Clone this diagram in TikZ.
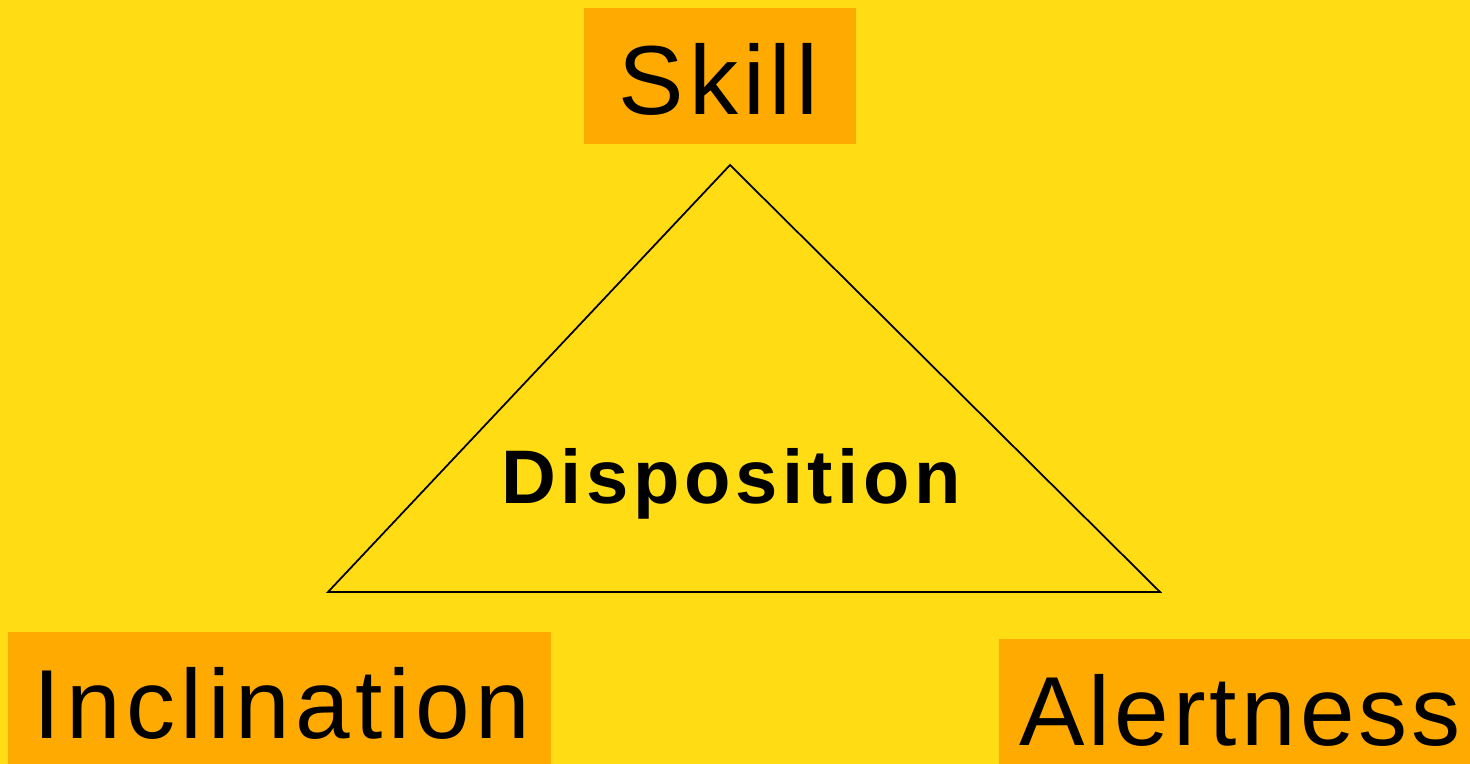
\documentclass[tikz,border=0pt]{standalone}
\usepackage{fontspec}
\setmainfont{Liberation Sans}
\definecolor{bgyellow}{RGB}{255,220,20}
\definecolor{boxorange}{RGB}{255,170,0}
\begin{document}
\begin{tikzpicture}[x=0.01cm,y=-0.01cm,
  termbox/.style={fill=boxorange,draw=none,inner sep=0pt},
  termtext/.style={anchor=base,inner sep=0pt,
    font=\fontsize{27.9pt}{30pt}\selectfont\addfontfeature{LetterSpace=#1}},
  coretext/.style={anchor=base,inner sep=0pt,
    font=\fontsize{21.6pt}{24pt}\selectfont\bfseries\addfontfeature{LetterSpace=6}}]
  % background and page frame
  \fill[bgyellow] (0,0) rectangle (1470,764);
  \useasboundingbox (0,0) rectangle (1470,764);

  % corner boxes
  \node[termbox,minimum width=2.72cm,minimum height=1.36cm] (skillbox) at (720,76) {};
  \node[termbox,minimum width=5.43cm,minimum height=1.32cm] (inclbox) at (279.5,698) {};
  \node[termbox,minimum width=4.71cm,minimum height=1.25cm] (alertbox) at (1234.5,701.5) {};

  % triangle
  \coordinate (top) at (730,165);
  \coordinate (left) at (328,592);
  \coordinate (right) at (1160,592);
  \draw[black,line width=0.5pt,line join=miter] (top) -- (left) -- (right) -- cycle;

  % labels
  \node[termtext=5] (skill) at (718.5,115) {Skill};
  \node[termtext=5.6] (incl) at (282,738) {Inclination};
  \node[termtext=4.2] (alert) at (1240,745) {Alertness};
  \node[coretext] (disp) at (731,503) {Disposition};
\end{tikzpicture}
\end{document}
